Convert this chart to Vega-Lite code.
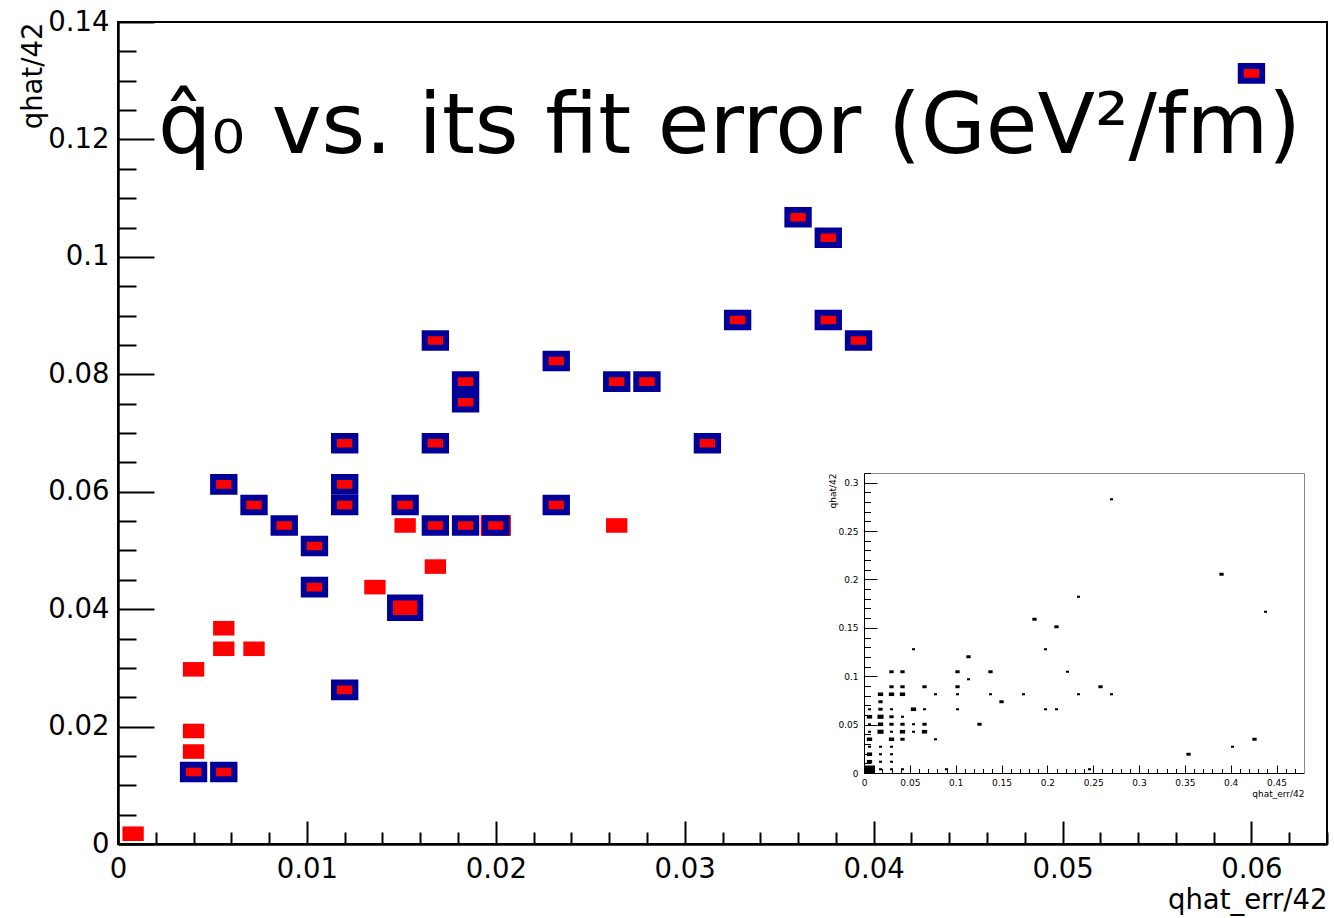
{
  "$schema": "https://vega.github.io/schema/vega-lite/v6.json",
  "width": 1209,
  "height": 822,
  "autosize": {"type": "none"},
  "padding": {"left": 118, "top": 22, "right": 7, "bottom": 74},
  "background": "white",
  "title": {
    "text": "q̂₀ vs. its fit error (GeV²/fm)",
    "anchor": "start",
    "frame": "group",
    "offset": 0,
    "dx": 40,
    "dy": 229,
    "baseline": "alphabetic",
    "font": "DejaVu Sans",
    "fontSize": 84,
    "fontWeight": "normal",
    "color": "black"
  },
  "config": {
    "view": {"stroke": "black", "strokeWidth": 2},
    "axis": {"grid": false, "labelFont": "DejaVu Sans", "titleFont": "DejaVu Sans", "labelColor": "black", "titleColor": "black", "titleFontWeight": "normal", "domainColor": "black", "tickColor": "black", "labelFlush": false, "labelOverlap": false, "labelAngle": 0}
  },
  "datasets": {
    "red": [
      {"x": 0.0008, "y": 0.00175, "n": 1},
      {"x": 0.004, "y": 0.01225, "n": 1},
      {"x": 0.0056, "y": 0.01225, "n": 1},
      {"x": 0.004, "y": 0.01575, "n": 1},
      {"x": 0.004, "y": 0.01925, "n": 1},
      {"x": 0.004, "y": 0.02975, "n": 1},
      {"x": 0.0056, "y": 0.03325, "n": 1},
      {"x": 0.0072, "y": 0.03325, "n": 1},
      {"x": 0.0056, "y": 0.03675, "n": 1},
      {"x": 0.012, "y": 0.02625, "n": 1},
      {"x": 0.0104, "y": 0.04375, "n": 1},
      {"x": 0.0136, "y": 0.04375, "n": 1},
      {"x": 0.0152, "y": 0.04025, "n": 2},
      {"x": 0.0168, "y": 0.04725, "n": 1},
      {"x": 0.0104, "y": 0.05075, "n": 1},
      {"x": 0.0088, "y": 0.05425, "n": 1},
      {"x": 0.0152, "y": 0.05425, "n": 1},
      {"x": 0.0168, "y": 0.05425, "n": 1},
      {"x": 0.0184, "y": 0.05425, "n": 1},
      {"x": 0.02, "y": 0.05425, "n": 2},
      {"x": 0.0264, "y": 0.05425, "n": 1},
      {"x": 0.0072, "y": 0.05775, "n": 1},
      {"x": 0.012, "y": 0.05775, "n": 1},
      {"x": 0.0152, "y": 0.05775, "n": 1},
      {"x": 0.0232, "y": 0.05775, "n": 1},
      {"x": 0.0056, "y": 0.06125, "n": 1},
      {"x": 0.012, "y": 0.06125, "n": 1},
      {"x": 0.012, "y": 0.06825, "n": 1},
      {"x": 0.0168, "y": 0.06825, "n": 1},
      {"x": 0.0312, "y": 0.06825, "n": 1},
      {"x": 0.0184, "y": 0.07525, "n": 1},
      {"x": 0.0184, "y": 0.07875, "n": 1},
      {"x": 0.0264, "y": 0.07875, "n": 1},
      {"x": 0.028, "y": 0.07875, "n": 1},
      {"x": 0.0232, "y": 0.08225, "n": 1},
      {"x": 0.0168, "y": 0.08575, "n": 1},
      {"x": 0.0328, "y": 0.08925, "n": 1},
      {"x": 0.0376, "y": 0.08925, "n": 1},
      {"x": 0.0392, "y": 0.08575, "n": 1},
      {"x": 0.036, "y": 0.10675, "n": 1},
      {"x": 0.0376, "y": 0.10325, "n": 1},
      {"x": 0.06, "y": 0.13125, "n": 1}
    ],
    "blue": [
      {"x": 0.004, "y": 0.01225, "n": 1},
      {"x": 0.0056, "y": 0.01225, "n": 1},
      {"x": 0.012, "y": 0.02625, "n": 1},
      {"x": 0.0104, "y": 0.04375, "n": 1},
      {"x": 0.0152, "y": 0.04025, "n": 2},
      {"x": 0.0104, "y": 0.05075, "n": 1},
      {"x": 0.0088, "y": 0.05425, "n": 1},
      {"x": 0.0168, "y": 0.05425, "n": 1},
      {"x": 0.0184, "y": 0.05425, "n": 1},
      {"x": 0.02, "y": 0.05425, "n": 1},
      {"x": 0.0072, "y": 0.05775, "n": 1},
      {"x": 0.012, "y": 0.05775, "n": 1},
      {"x": 0.0152, "y": 0.05775, "n": 1},
      {"x": 0.0232, "y": 0.05775, "n": 1},
      {"x": 0.0056, "y": 0.06125, "n": 1},
      {"x": 0.012, "y": 0.06125, "n": 1},
      {"x": 0.012, "y": 0.06825, "n": 1},
      {"x": 0.0168, "y": 0.06825, "n": 1},
      {"x": 0.0312, "y": 0.06825, "n": 1},
      {"x": 0.0184, "y": 0.07525, "n": 1},
      {"x": 0.0184, "y": 0.07875, "n": 1},
      {"x": 0.0264, "y": 0.07875, "n": 1},
      {"x": 0.028, "y": 0.07875, "n": 1},
      {"x": 0.0232, "y": 0.08225, "n": 1},
      {"x": 0.0168, "y": 0.08575, "n": 1},
      {"x": 0.0328, "y": 0.08925, "n": 1},
      {"x": 0.0376, "y": 0.08925, "n": 1},
      {"x": 0.0392, "y": 0.08575, "n": 1},
      {"x": 0.036, "y": 0.10675, "n": 1},
      {"x": 0.0376, "y": 0.10325, "n": 1},
      {"x": 0.06, "y": 0.13125, "n": 1}
    ],
    "inset": [
      {"x": 0.270, "y": 0.282875, "n": 1},
      {"x": 0.390, "y": 0.205375, "n": 2},
      {"x": 0.234, "y": 0.182125, "n": 1},
      {"x": 0.438, "y": 0.166625, "n": 1},
      {"x": 0.186, "y": 0.158875, "n": 2},
      {"x": 0.210, "y": 0.151125, "n": 2},
      {"x": 0.054, "y": 0.127875, "n": 1},
      {"x": 0.198, "y": 0.127875, "n": 1},
      {"x": 0.114, "y": 0.120125, "n": 2},
      {"x": 0.114, "y": 0.096875, "n": 1},
      {"x": 0.030, "y": 0.104625, "n": 2},
      {"x": 0.042, "y": 0.104625, "n": 2},
      {"x": 0.102, "y": 0.104625, "n": 2},
      {"x": 0.138, "y": 0.104625, "n": 2},
      {"x": 0.222, "y": 0.104625, "n": 1},
      {"x": 0.030, "y": 0.089125, "n": 2},
      {"x": 0.042, "y": 0.089125, "n": 2},
      {"x": 0.066, "y": 0.089125, "n": 2},
      {"x": 0.102, "y": 0.089125, "n": 2},
      {"x": 0.258, "y": 0.089125, "n": 2},
      {"x": 0.018, "y": 0.081375, "n": 3},
      {"x": 0.030, "y": 0.081375, "n": 3},
      {"x": 0.042, "y": 0.081375, "n": 3},
      {"x": 0.078, "y": 0.081375, "n": 1},
      {"x": 0.102, "y": 0.081375, "n": 1},
      {"x": 0.138, "y": 0.081375, "n": 1},
      {"x": 0.174, "y": 0.081375, "n": 1},
      {"x": 0.234, "y": 0.081375, "n": 1},
      {"x": 0.270, "y": 0.081375, "n": 1},
      {"x": 0.018, "y": 0.073625, "n": 2},
      {"x": 0.150, "y": 0.073625, "n": 2},
      {"x": 0.006, "y": 0.065875, "n": 1},
      {"x": 0.018, "y": 0.065875, "n": 2},
      {"x": 0.030, "y": 0.065875, "n": 1},
      {"x": 0.054, "y": 0.065875, "n": 3},
      {"x": 0.066, "y": 0.065875, "n": 1},
      {"x": 0.102, "y": 0.065875, "n": 1},
      {"x": 0.198, "y": 0.065875, "n": 1},
      {"x": 0.210, "y": 0.065875, "n": 1},
      {"x": 0.006, "y": 0.058125, "n": 3},
      {"x": 0.018, "y": 0.058125, "n": 4},
      {"x": 0.030, "y": 0.058125, "n": 2},
      {"x": 0.042, "y": 0.058125, "n": 1},
      {"x": 0.006, "y": 0.050375, "n": 1},
      {"x": 0.018, "y": 0.050375, "n": 3},
      {"x": 0.030, "y": 0.050375, "n": 2},
      {"x": 0.042, "y": 0.050375, "n": 2},
      {"x": 0.054, "y": 0.050375, "n": 1},
      {"x": 0.066, "y": 0.050375, "n": 2},
      {"x": 0.126, "y": 0.050375, "n": 2},
      {"x": 0.006, "y": 0.042625, "n": 1},
      {"x": 0.018, "y": 0.042625, "n": 4},
      {"x": 0.030, "y": 0.042625, "n": 1},
      {"x": 0.042, "y": 0.042625, "n": 3},
      {"x": 0.054, "y": 0.042625, "n": 1},
      {"x": 0.066, "y": 0.042625, "n": 3},
      {"x": 0.006, "y": 0.034875, "n": 3},
      {"x": 0.030, "y": 0.034875, "n": 3},
      {"x": 0.042, "y": 0.034875, "n": 2},
      {"x": 0.078, "y": 0.034875, "n": 1},
      {"x": 0.426, "y": 0.034875, "n": 2},
      {"x": 0.006, "y": 0.027125, "n": 1},
      {"x": 0.018, "y": 0.027125, "n": 1},
      {"x": 0.030, "y": 0.027125, "n": 1},
      {"x": 0.402, "y": 0.027125, "n": 1},
      {"x": 0.006, "y": 0.019375, "n": 3},
      {"x": 0.018, "y": 0.019375, "n": 1},
      {"x": 0.030, "y": 0.019375, "n": 1},
      {"x": 0.354, "y": 0.019375, "n": 2},
      {"x": 0.006, "y": 0.011625, "n": 3},
      {"x": 0.018, "y": 0.011625, "n": 1},
      {"x": 0.030, "y": 0.011625, "n": 1},
      {"x": 0.006, "y": 0.003875, "n": 13},
      {"x": 0.018, "y": 0.003875, "n": 1},
      {"x": 0.030, "y": 0.003875, "n": 1},
      {"x": 0.042, "y": 0.003875, "n": 1},
      {"x": 0.090, "y": 0.003875, "n": 1},
      {"x": 0.246, "y": 0.003875, "n": 1}
    ]
  },
  "resolve": {
    "scale": {"x": "independent", "y": "independent", "size": "independent"},
    "axis": {"x": "independent", "y": "independent"}
  },
  "layer": [
    {
      "encoding": {
        "x": {"field": "x", "type": "quantitative", "scale": {"domain": [0, 0.064], "nice": false, "zero": false},
          "axis": {"orient": "bottom", "values": [0, 0.01, 0.02, 0.03, 0.04, 0.05, 0.06], "tickSize": -23, "tickWidth": 2, "domainWidth": 2.5,
            "labelFontSize": 27.5, "labelPadding": 34, "labelExpr": "format(datum.value, '~g')",
            "title": "qhat_err/42", "titleFontSize": 27.5, "titleAnchor": "end", "titleAlign": "right", "titleBaseline": "alphabetic", "titleX": 1209, "titleY": 64}},
        "y": {"field": "y", "type": "quantitative", "scale": {"domain": [0, 0.14], "nice": false, "zero": false},
          "axis": {"orient": "left", "values": [0, 0.02, 0.04, 0.06, 0.08, 0.1, 0.12, 0.14], "tickSize": -36, "tickWidth": 2, "domainWidth": 2.5,
            "labelFontSize": 27.5, "labelPadding": 45, "labelBaseline": "middle", "labelExpr": "format(datum.value, '~g')",
            "title": "qhat/42", "titleFontSize": 27.5, "titleAngle": 270, "titleAlign": "right", "titleBaseline": "alphabetic", "titleX": -77, "titleY": 0}}
      },
      "layer": [
        {
          "data": {"name": "red"},
          "mark": {"type": "point", "shape": "M-1,-0.682L1,-0.682L1,0.682L-1,0.682Z", "filled": true, "fill": "#ff0000", "strokeWidth": 0, "opacity": 1},
          "encoding": {"size": {"field": "n", "type": "quantitative", "scale": {"domain": [0, 2], "range": [0, 912]}, "legend": null}}
        },
        {
          "data": {"name": "blue"},
          "mark": {"type": "point", "shape": "M-1,-0.682L1,-0.682L1,0.682L-1,0.682Z", "filled": false, "stroke": "#000099", "strokeWidth": 6, "opacity": 1},
          "encoding": {"size": {"field": "n", "type": "quantitative", "scale": {"domain": [0, 2], "range": [0, 912]}, "legend": null}}
        }
      ]
    },
    {
      "data": {"name": "red"},
      "mark": {"type": "point", "opacity": 0},
      "encoding": {
        "x": {"field": "x", "type": "quantitative", "scale": {"domain": [0, 0.064], "nice": false, "zero": false},
          "axis": {"orient": "bottom", "values": [0.002,0.004,0.006,0.008,0.012,0.014,0.016,0.018,0.022,0.024,0.026,0.028,0.032,0.034,0.036,0.038,0.042,0.044,0.046,0.048,0.052,0.054,0.056,0.058,0.062,0.064], "tickSize": -12, "tickWidth": 2, "domain": false, "labels": false, "title": null}},
        "y": {"field": "y", "type": "quantitative", "scale": {"domain": [0, 0.14], "nice": false, "zero": false},
          "axis": {"orient": "left", "values": [0.005,0.01,0.015,0.025,0.03,0.035,0.045,0.05,0.055,0.065,0.07,0.075,0.085,0.09,0.095,0.105,0.11,0.115,0.125,0.13,0.135], "tickSize": -18, "tickWidth": 2, "domain": false, "labels": false, "title": null}}
      }
    },
    {
      "data": {"name": "inset"},
      "mark": {"type": "point", "shape": "M-1,-0.682L1,-0.682L1,0.682L-1,0.682Z", "filled": true, "fill": "black", "strokeWidth": 0, "opacity": 1},
      "encoding": {
        "x": {"field": "x", "type": "quantitative", "scale": {"domain": [0, 0.48], "range": [746, 1186], "nice": false, "zero": false},
          "axis": {"orient": "bottom", "offset": -71, "values": [0, 0.05, 0.1, 0.15, 0.2, 0.25, 0.3, 0.35, 0.4, 0.45], "tickSize": -8, "tickWidth": 1, "domainWidth": 1,
            "labelFontSize": 9, "labelPadding": 13, "labelExpr": "format(datum.value, '~g')",
            "title": "qhat_err/42", "titleFontSize": 9, "titleAnchor": "end", "titleAlign": "right", "titleBaseline": "alphabetic", "titleX": 1186, "titleY": 23}},
        "y": {"field": "y", "type": "quantitative", "scale": {"domain": [0, 0.31], "range": [751, 451], "nice": false, "zero": false},
          "axis": {"orient": "left", "offset": -746, "values": [0, 0.05, 0.1, 0.15, 0.2, 0.25, 0.3], "tickSize": -13, "tickWidth": 1, "domainWidth": 1,
            "labelFontSize": 9, "labelPadding": 19, "labelBaseline": "middle", "labelExpr": "format(datum.value, '~g')",
            "title": "qhat/42", "titleFontSize": 9, "titleAngle": 270, "titleAlign": "right", "titleBaseline": "alphabetic", "titleX": -29, "titleY": 451}},
        "size": {"field": "n", "type": "quantitative", "scale": {"domain": [0, 13], "range": [0, 121]}, "legend": null}
      }
    },
    {
      "data": {"name": "inset"},
      "mark": {"type": "point", "opacity": 0},
      "encoding": {
        "x": {"field": "x", "type": "quantitative", "scale": {"domain": [0, 0.48], "range": [746, 1186], "nice": false, "zero": false},
          "axis": {"orient": "bottom", "offset": -71, "values": [0.01,0.02,0.03,0.04,0.06,0.07,0.08,0.09,0.11,0.12,0.13,0.14,0.16,0.17,0.18,0.19,0.21,0.22,0.23,0.24,0.26,0.27,0.28,0.29,0.31,0.32,0.33,0.34,0.36,0.37,0.38,0.39,0.41,0.42,0.43,0.44,0.46,0.47], "tickSize": -4.5, "tickWidth": 1, "domain": false, "labels": false, "title": null}},
        "y": {"field": "y", "type": "quantitative", "scale": {"domain": [0, 0.31], "range": [751, 451], "nice": false, "zero": false},
          "axis": {"orient": "left", "offset": -746, "values": [0.01,0.02,0.03,0.04,0.06,0.07,0.08,0.09,0.11,0.12,0.13,0.14,0.16,0.17,0.18,0.19,0.21,0.22,0.23,0.24,0.26,0.27,0.28,0.29,0.31], "tickSize": -6.5, "tickWidth": 1, "domain": false, "labels": false, "title": null}}
      }
    },
    {
      "data": {"name": "inset"},
      "mark": {"type": "point", "opacity": 0},
      "encoding": {
        "x": {"field": "x", "type": "quantitative", "scale": {"domain": [0, 0.48], "range": [746, 1186], "nice": false, "zero": false},
          "axis": {"orient": "top", "offset": -451, "values": [], "ticks": false, "labels": false, "domainColor": "#888888", "domainWidth": 1, "title": null}},
        "y": {"field": "y", "type": "quantitative", "scale": {"domain": [0, 0.31], "range": [751, 451], "nice": false, "zero": false},
          "axis": {"orient": "right", "offset": -23, "values": [], "ticks": false, "labels": false, "domainColor": "#888888", "domainWidth": 1, "title": null}}
      }
    }
  ]
}
